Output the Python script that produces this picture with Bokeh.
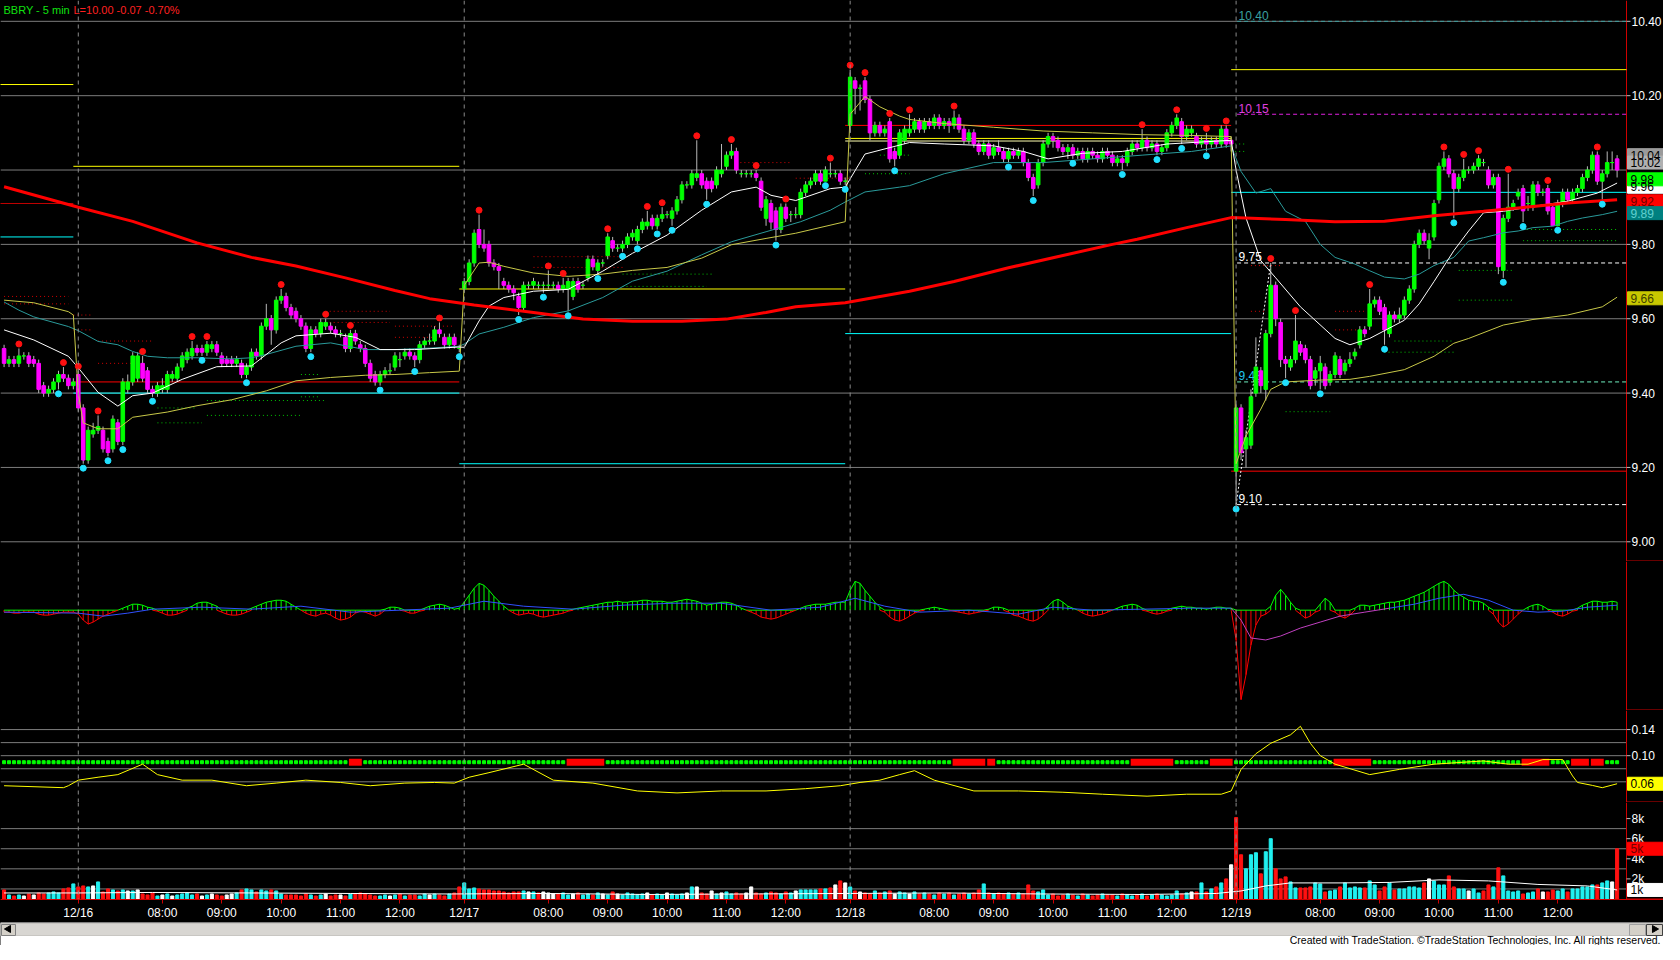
import numpy as np
from bokeh.plotting import figure
from bokeh.models import Range1d, FixedTicker, Span, Label, ColumnDataSource
from bokeh.layouts import column
from bokeh.embed import file_html
from bokeh.resources import INLINE
from bokeh.core.properties import value

# ======================= DATA =======================
symbol = "BBRY - 5 min"
last_quote = "L=10.00 -0.07 -0.70%"
copyright_txt = "Created with TradeStation. \u00a9TradeStation Technologies, Inc. All rights reserved."
pre_day = "12/15"
days = ["12/16", "12/17", "12/18", "12/19"]
pre_bars = 15          # 11:50 .. 13:00 of 12/15
bars_per_day = 78      # 06:35 .. 13:00, 5-minute bars

# prices in cents
open_c = [
    952,948,949,948,950,950,949,948,942,940,941,943,945,944,942,
    945,936,922,929,930,930,927,925,932,927,941,943,944,948,946,
    941,940,941,941,944,944,947,949,950,952,952,951,952,953,950,
    949,949,948,948,945,947,951,950,958,960,957,965,966,963,962,
    960,958,952,957,956,958,958,957,956,955,952,956,953,952,948,
    945,943,945,946,947,949,950,951,950,949,953,954,954,957,955,953,955,952,
    968,970,975,984,980,980,975,974,970,969,968,966,963,969,969,
    969,969,969,969,969,968,968,966,970,969,971,976,973,975,977,
    981,979,979,980,982,981,984,985,987,985,987,988,987,989,992,
    996,996,998,999,997,997,996,999,1001,1004,1005,999,999,999,999,
    997,987,991,989,984,990,988,988,988,994,996,997,999,997,999,999,999,997,
    1012,1024,1022,1024,1019,1010,1012,1010,1013,1005,1004,1008,1010,1011,1013,
    1011,1013,1012,1014,1012,1013,1012,1014,1011,1008,1010,1007,1005,1007,1004,
    1006,1005,1003,1005,1004,1005,1002,998,996,1002,1007,1009,1008,1006,1005,
    1006,1004,1005,1003,1005,1004,1003,1005,1004,1002,1003,1002,1005,1007,1006,
    1008,1006,1007,1005,1006,1010,1012,1013,1009,1010,1009,1007,1008,1007,1008,1007,1011,1008,
    919,936,925,926,940,946,941,956,969,959,949,947,949,953,952,
    949,944,946,947,943,945,949,946,948,950,953,957,958,964,965,
    963,956,961,960,961,965,968,980,983,979,982,992,1001,1003,999,
    995,998,1000,1000,1001,1002,1000,996,998,973,987,990,993,995,991,
    990,996,994,995,990,985,991,994,992,994,995,998,1000,1004,997,999,1002,1003,
]
high_c = [
    953,950,950,952,951,951,950,949,943,942,944,946,947,945,944,
    946,937,931,932,934,931,928,934,933,944,945,951,951,950,947,
    942,943,944,946,946,948,951,952,954,953,953,954,954,954,951,
    950,950,950,949,948,952,952,959,964,961,966,968,967,964,963,
    961,959,958,958,960,960,959,958,957,956,957,957,954,953,949,
    946,946,947,948,951,951,952,952,951,954,955,956,958,959,956,956,956,953,
    971,976,984,988,984,981,976,975,971,970,969,967,970,970,971,
    970,970,973,970,970,971,971,971,971,970,977,977,976,976,983,
    982,980,981,983,984,985,987,989,988,988,990,989,990,993,997,
    997,1000,1008,1000,998,998,1001,1007,1005,1007,1006,1000,1000,1000,1000,
    998,993,992,990,991,991,989,990,995,997,998,1000,1000,1001,1002,1000,1000,998,
    1027,1025,1023,1025,1020,1013,1013,1012,1014,1006,1011,1012,1015,1014,1014,
    1014,1014,1015,1015,1014,1014,1016,1015,1012,1011,1011,1008,1008,1008,1007,
    1008,1006,1006,1006,1006,1006,1003,999,1003,1008,1010,1010,1009,1007,1007,
    1007,1006,1006,1006,1006,1005,1006,1006,1005,1004,1004,1006,1008,1008,1011,
    1009,1008,1008,1007,1011,1013,1015,1014,1012,1012,1010,1009,1010,1009,1009,1012,1012,1009,
    937,937,930,941,955,947,957,975,970,960,950,950,961,954,953,
    950,947,950,948,946,951,950,949,951,952,958,958,968,966,966,
    964,962,962,963,966,969,981,984,984,983,992,1002,1005,1004,1000,
    999,1003,1001,1002,1004,1003,1001,999,999,988,999,992,995,996,993,
    997,997,995,996,991,992,995,995,995,996,999,1001,1005,1005,1000,1005,1005,1004,
]
low_c = [
    947,947,947,947,949,947,947,940,939,939,940,941,943,941,941,
    935,921,921,928,929,924,923,924,926,926,940,942,943,943,940,
    939,939,940,940,943,943,946,948,949,950,950,950,951,950,947,
    947,947,947,944,944,946,949,949,957,953,956,964,962,960,959,
    957,951,951,955,955,957,956,955,955,951,951,953,951,947,943,
    942,942,944,945,946,947,949,949,947,948,952,953,953,955,952,952,952,951,
    967,969,974,979,978,974,973,968,968,967,965,961,962,968,968,
    968,967,968,968,967,967,962,965,967,968,970,973,972,974,976,
    978,978,978,979,981,980,983,984,984,984,986,987,985,988,991,
    995,995,997,995,992,994,995,998,1000,1003,999,998,998,998,997,
    989,985,984,981,983,986,986,987,987,993,995,996,996,997,998,998,996,996,
    1010,1015,1016,1018,1008,1009,1009,1009,1002,1001,1003,1007,1009,1010,1010,
    1010,1011,1011,1011,1011,1010,1011,1010,1007,1007,1006,1004,1004,1003,1003,
    1004,1002,1002,1003,1003,1001,997,993,995,1001,1006,1006,1005,1004,1003,
    1003,1003,1002,1002,1003,1002,1002,1003,1001,1001,1000,1001,1004,1005,1005,
    1005,1005,1004,1004,1005,1009,1011,1007,1008,1009,1006,1006,1005,1006,1006,1006,1006,1005,
    910,922,920,925,939,940,938,955,958,947,944,946,948,950,948,
    941,942,941,941,942,944,944,945,947,949,952,955,957,963,961,
    953,955,959,959,960,964,967,979,980,976,981,991,1000,998,987,
    994,997,999,999,1000,1001,995,995,972,971,986,989,992,986,989,
    989,993,993,988,985,985,990,991,991,993,994,997,999,996,992,998,1000,998,
]
close_c = [
    948,949,948,950,950,948,948,941,940,941,943,945,944,942,943,
    936,922,930,930,931,925,924,933,927,943,943,950,950,944,941,
    940,942,942,945,945,947,950,951,952,951,951,953,953,951,948,
    948,948,949,945,947,951,950,958,960,957,965,966,963,961,960,
    958,952,957,956,959,959,957,956,956,952,956,954,952,948,944,
    943,945,946,946,950,949,951,950,949,953,954,954,957,956,953,955,953,952,
    970,975,983,980,979,975,974,973,969,968,967,963,969,969,970,
    969,969,969,969,968,969,970,970,968,969,976,974,975,975,982,
    979,979,980,982,983,984,986,986,985,987,988,988,989,992,996,
    996,999,999,996,995,995,1000,1000,1004,1005,1000,999,999,999,998,
    990,992,986,984,990,987,988,988,994,996,997,999,997,1000,999,999,997,997,
    1025,1022,1022,1019,1010,1012,1010,1011,1003,1003,1010,1011,1011,1013,1011,
    1013,1012,1014,1012,1013,1012,1014,1011,1008,1010,1007,1005,1007,1004,1006,
    1005,1003,1005,1004,1005,1002,998,995,1002,1007,1009,1008,1006,1005,1006,
    1004,1005,1003,1005,1004,1003,1005,1004,1002,1003,1002,1005,1007,1006,1008,
    1006,1007,1005,1006,1010,1012,1014,1009,1011,1011,1007,1008,1007,1008,1007,1011,1007,1007,
    936,924,928,939,947,942,956,969,960,949,948,949,954,951,949,
    942,946,948,942,945,950,945,948,949,951,957,956,964,965,962,
    957,961,960,961,965,968,980,983,981,981,991,1001,1003,999,995,
    998,1000,1000,1001,1003,1002,996,998,974,987,990,991,994,989,991,
    996,994,994,989,985,991,994,992,994,995,998,1000,1004,997,999,1002,1002,1000,
]
# volume in hundreds of shares
volume_h = [
    9,4,3,4,3,5,4,6,5,6,7,6,10,11,15,
    12,13,12,13,17,7,10,9,8,9,8,8,9,5,4,
    6,3,4,5,3,4,5,6,4,5,3,4,5,4,3,
    4,5,6,9,10,9,7,9,8,9,8,5,4,4,4,
    3,5,4,3,4,5,3,4,4,3,5,5,6,5,4,
    3,3,4,3,4,5,3,4,4,3,5,4,5,4,3,5,6,12,
    16,10,11,10,9,9,8,8,7,6,7,7,8,7,7,
    6,7,6,5,5,6,4,5,6,4,5,4,6,5,4,
    7,5,4,6,5,4,5,6,4,5,4,6,5,4,5,
    6,12,12,6,5,8,5,6,7,5,6,5,6,12,6,
    5,6,7,6,5,7,6,8,9,9,9,9,10,10,11,14,18,16,
    12,8,7,6,5,8,6,7,8,5,7,6,5,7,5,
    6,5,4,6,5,6,4,5,6,5,6,9,15,6,5,
    6,5,6,5,6,5,14,8,7,9,4,5,3,4,5,
    4,3,5,4,3,4,5,4,4,3,5,4,3,4,5,
    3,4,5,4,3,4,8,5,6,7,7,16,7,10,12,16,20,34,
    81,44,30,44,46,25,47,60,30,20,22,17,11,11,11,
    12,16,15,7,8,9,12,16,11,12,11,11,18,14,8,
    12,16,9,10,10,12,12,11,16,20,18,14,14,23,12,
    10,10,8,10,6,8,14,12,31,23,8,7,8,5,6,
    7,10,7,7,9,8,10,7,10,10,12,12,14,14,16,18,17,50,
]
# MACD histogram (panel units)
macd_hist = [
    -2,-2,-3,-3,-2,-2,-2,-4,-5,-5,-4,-3,-2,-2,-2,
    -4,-10,-14,-12,-9,-6,-4,-2,0,2,4,6,6,5,3,
    2,-1,-3,-5,-5,-4,-2,2,4,7,8,8,6,4,-2,
    -4,-5,-5,-4,-2,2,4,6,8,9,10,10,9,6,3,
    0,-3,-5,-6,-4,-3,-5,-8,-10,-9,-7,-3,-1,-2,-4,
    -6,-4,1,3,3,2,-1,-3,-3,-1,2,4,5,6,5,3,1,2,
    8,15,22,27,25,20,14,9,4,0,-3,-5,-4,-3,-4,
    -6,-7,-6,-5,-4,-3,-1,1,2,3,4,5,6,7,8,
    8,9,8,8,9,9,10,10,9,9,9,8,8,9,10,
    11,10,9,7,5,6,7,8,8,7,5,2,0,-2,-4,
    -7,-8,-9,-8,-6,-4,-2,0,2,4,5,6,6,6,7,8,8,8,
    20,29,27,20,14,8,3,-2,-7,-10,-11,-9,-6,-3,-1,
    1,2,3,2,1,0,-1,-2,-3,-4,-3,-2,-1,1,3,
    3,2,-2,-5,-6,-8,-10,-11,-9,-5,4,9,11,8,4,
    2,0,-3,-5,-6,-5,-4,-2,0,2,4,5,6,5,2,
    -1,-3,-4,-3,-1,2,3,4,3,3,2,2,1,2,3,3,2,2,
    -30,-90,-65,-35,-15,-6,-4,4,15,21,15,8,2,-4,-8,
    -6,-2,6,12,8,-2,-6,-8,-5,2,5,5,4,5,6,
    7,8,8,9,10,12,14,16,18,21,24,27,29,26,20,
    16,13,10,9,9,7,3,-4,-12,-17,-14,-9,-4,0,3,
    5,6,4,1,-2,-5,-6,-4,-1,2,5,7,9,9,8,8,9,8,
]
macd_sig_i = [0,15,20,25,30,40,50,60,70,80,90,97,105,115,125,135,145,155,165,172,178,185,195,205,212,220,230,240,248]
macd_sig_v = [-2,-3,-6,-3,1,3,1,4,-2,0,2,9,4,1,5,7,7,0,3,12,4,-2,0,-4,3,0,1,2,2]
macd_sig2_i = [280,285,290,295,300,305,310,315,320,326]
macd_sig2_v = [2,6,12,16,10,0,-2,-1,3,5]
macd_line_i = [248,250,252,255,258,262,266,270,275,280]
macd_line_v = [2,-10,-28,-30,-26,-18,-12,-6,-2,2]

# swing markers (bar index)
swing_high_idx = [3,12,15,19,28,38,41,56,65,70,88,96,110,113,122,130,133,140,147,152,158,167,171,174,179,183,192,230,237,243,247,256,261,276,291,295,298,304,312,322]
swing_low_idx = [11,16,21,24,30,40,49,62,76,83,92,104,109,114,120,125,128,132,135,142,156,166,170,180,203,208,216,226,233,238,243,249,259,266,279,293,303,307,314,323]

# indicator lines (bar index, price)
ma_long_i = [0,15,26,39,50,59,69,79,86,95,107,117,127,137,146,154,160,170,183,192,203,214,224,229,239,248,259,269,279,289,299,309,316,326]
ma_long_v = [9.955,9.90,9.862,9.804,9.765,9.742,9.71,9.676,9.654,9.637,9.617,9.599,9.593,9.593,9.599,9.617,9.632,9.643,9.674,9.70,9.737,9.77,9.80,9.814,9.845,9.872,9.867,9.861,9.862,9.877,9.889,9.902,9.911,9.92]
ma_fast_i = [0,6,13,15,19,23,26,30,36,43,50,56,59,66,71,76,83,92,
             93,96,98,101,107,114,121,127,134,141,147,152,155,160,167,170,174,183,
             190,200,206,211,218,226,235,248,
             249,251,254,257,262,269,272,276,283,286,289,293,296,299,303,309,316,322,326]
ma_fast_v = [9.57,9.543,9.499,9.468,9.402,9.365,9.393,9.40,9.437,9.471,9.473,9.535,9.554,9.561,9.55,9.517,9.517,9.524,
             9.523,9.594,9.634,9.657,9.674,9.679,9.728,9.776,9.825,9.892,9.941,9.954,9.932,9.918,9.95,9.954,10.043,10.074,
             10.07,10.065,10.05,10.03,10.045,10.05,10.07,10.08,
             10.0,9.871,9.756,9.71,9.632,9.547,9.53,9.547,9.596,9.64,9.70,9.783,9.836,9.885,9.889,9.902,9.916,9.938,9.965]
vwap_i = [0,6,13,14,15,16,19,23,26,33,39,46,53,59,66,73,79,86,92,
          93,96,98,101,107,114,121,127,134,141,147,154,160,170,
          171,174,177,181,183,190,200,210,220,230,240,248,
          249,251,254,256,259,266,272,276,283,289,293,296,303,309,316,323,326]
vwap_v = [9.65,9.643,9.619,9.61,9.40,9.32,9.304,9.304,9.335,9.349,9.366,9.382,9.406,9.433,9.442,9.448,9.45,9.455,9.459,
          9.69,9.75,9.752,9.741,9.723,9.714,9.72,9.73,9.738,9.763,9.799,9.816,9.83,9.861,
          10.15,10.198,10.17,10.145,10.136,10.125,10.115,10.105,10.10,10.095,10.093,10.09,
          9.21,9.285,9.357,9.41,9.43,9.435,9.437,9.445,9.463,9.499,9.534,9.547,9.583,9.598,9.61,9.632,9.658]
band_i = [0,3,6,13,15,19,23,26,29,33,39,46,50,53,59,66,73,79,86,92,
          93,96,101,107,114,121,127,134,141,147,154,161,167,170,174,181,183,
          190,200,210,220,230,240,248,
          250,253,256,259,263,266,269,273,276,279,283,286,289,293,296,299,303,306,309,313,316,319,323,326]
band_v = [9.645,9.623,9.605,9.579,9.568,9.539,9.53,9.512,9.499,9.495,9.495,9.492,9.495,9.504,9.526,9.535,9.517,9.517,9.521,9.526,
          9.532,9.559,9.577,9.603,9.621,9.657,9.701,9.728,9.772,9.807,9.834,9.861,9.892,9.914,9.941,9.954,9.958,
          9.99,10.02,10.02,10.03,10.04,10.05,10.065,
          9.996,9.938,9.95,9.889,9.862,9.80,9.765,9.747,9.729,9.712,9.707,9.72,9.743,9.765,9.809,9.818,9.831,9.836,9.845,9.849,9.862,9.871,9.88,9.889]

# horizontal reference levels (price, from bar, to bar)
lvl_price = [10.23, 9.91, 9.82, 10.01, 9.43, 9.40, 9.68, 9.21, 10.12, 10.085, 10.078, 9.56, 10.27, 9.94, 9.19]
lvl_from = [-1, -1, -1, 14, 14, 14, 92, 92, 170, 170, 170, 170, 248, 248, 248]
lvl_to = [14, 14, 14, 92, 92, 92, 170, 170, 248, 248, 248, 248, 330, 330, 330]
# 12/19 projected levels
proj_price = [10.40, 10.15, 9.75, 9.43, 9.10]
proj_text = ["10.40", "10.15", "9.75", "9.43", "9.10"]
proj_from = 249.2
zig_idx = [249, 256]
# dotted pivot marks
rdot_p = [9.66, 9.64, 9.61, 9.57, 9.54, 9.48, 9.62, 9.59, 9.58, 9.55, 9.767, 9.738, 10.02, 9.978, 9.743, 9.62, 9.62, 9.57]
rdot_a = [0, 0, 14, 14, 19, 19, 65, 65, 79, 79, 107, 107, 148, 160, 252, 252, 269, 269]
rdot_b = [13, 13, 18, 18, 30, 27, 78, 78, 91, 91, 125, 125, 159, 171, 258, 255, 275, 275]
gdot_p = [9.45, 9.39, 9.38, 9.36, 9.34, 9.32, 9.72, 9.687, 9.99, 10.04, 10.07, 10.05, 9.35, 9.54, 9.51, 9.73, 9.65, 9.84, 9.81]
gdot_a = [60, 60, 41, 31, 41, 31, 125, 125, 174, 177, 248, 248, 259, 281, 279, 294, 294, 307, 307]
gdot_b = [64, 64, 65, 39, 60, 40, 143, 142, 183, 183, 251, 251, 268, 293, 293, 305, 305, 326, 326]

# volatility panel
vola_i = [0,12,13,15,19,23,28,31,36,42,49,55,61,68,74,81,87,91,94,98,105,111,119,128,136,145,154,162,169,173,
          177,181,184,188,196,205,214,222,231,239,246,248,250,253,256,260,262,264,266,269,276,282,289,295,299,304,308,311,315,317,
          318,321,323,326]
vola_v = [0.054,0.051,0.054,0.0625,0.067,0.071,0.087,0.071,0.0625,0.0625,0.054,0.058,0.0625,0.059,0.054,0.058,0.059,0.058,0.067,0.074,
          0.087,0.0625,0.058,0.046,0.043,0.046,0.046,0.0495,0.054,0.059,0.0625,0.071,0.077,0.0625,0.046,0.046,0.044,0.041,0.038,0.041,
          0.041,0.046,0.079,0.103,0.119,0.132,0.145,0.119,0.10,0.087,0.071,0.079,0.087,0.09,0.092,0.087,0.087,0.094,0.094,0.069,
          0.059,0.0545,0.051,0.057]
squeeze_level = 0.09
sq_start = [70, 114, 192, 199, 228, 244, 269, 307, 317, 321]
sq_end = [72, 121, 198, 200, 236, 248, 276, 312, 320, 323]

# volume average line (shares)
vavg_i = [0,15,30,50,70,90,110,130,150,170,190,210,230,245,250,255,260,270,280,290,300,310,320,326]
vavg_v = [600,600,650,600,550,500,550,450,500,550,600,500,450,550,800,1300,1600,1600,1650,1900,1800,1450,1300,900]

# axis ticks
price_ticks = [9.0, 9.2, 9.4, 9.6, 9.8, 10.2, 10.4]
price_grid = [9.0, 9.2, 9.4, 9.6, 9.8, 10.0, 10.2, 10.4]
vola_ticks = [0.10, 0.14]
vola_grid = [0.06, 0.08, 0.10, 0.12, 0.14]
vol_ticks = [2, 4, 6, 8]            # thousands
vol_grid = [1, 3, 5, 7]
# right-hand value tags
price_tag_v = [10.04, 10.02, 9.955, 9.975, 9.916, 9.884, 9.655]
price_tag_t = ["10.04", "10.02", "9.96", "9.98", "9.92", "9.89", "9.66"]
vola_tag_v, vola_tag_t = [0.057], ["0.06"]
vol_tag_v, vol_tag_t = [5.0, 0.9], ["5k", "1k"]

# ======================= STYLE / LAYOUT =======================
FONT = "Liberation Sans"
AX_FS = "12px"
FW = 1626            # chart area width
RB = 37              # price-scale column width
TW = FW + RB
H_PRICE, H_MACD, H_VOLA, H_VOL, H_AXIS, H_FOOT = 561, 149, 92, 97, 21, 23
GRID = "#7c7c7c"
AXRED = "#d00000"
UP, DN = "#00ff00", "#ff00ff"

X0, X1 = -0.72, 327.9
PX = (X1 - X0) / FW           # data units per pixel
xr = Range1d(X0, X0 + PX * TW)

o = np.array(open_c) / 100.0
c = np.array(close_c) / 100.0
h = np.maximum(np.array(high_c) / 100.0, np.maximum(o, c))
l = np.minimum(np.array(low_c) / 100.0, np.minimum(o, c))
n = len(c)
x = np.arange(n)

times = [(pre_day, 11 * 60 + 50 + 5 * k) for k in range(pre_bars)]
for d in days:
    times += [(d, 6 * 60 + 35 + 5 * k) for k in range(bars_per_day)]
day_start = [i for i, (d, m) in enumerate(times) if d != pre_day and m == 6 * 60 + 35]
tick_pos, tick_txt = [], []
for i, (d, m) in enumerate(times[:n]):
    if d == pre_day:
        continue
    if m == 6 * 60 + 35:
        tick_pos.append(i); tick_txt.append(d)
    elif m % 60 == 0 and 8 * 60 <= m <= 12 * 60:
        tick_pos.append(i); tick_txt.append("%02d:00" % (m // 60))


def make_panel(hgt, y0, y1, ticks, labels, grid, bottom=0, xaxis=False):
    p = figure(frame_width=TW, frame_height=hgt, x_range=xr, y_range=Range1d(y0, y1),
               output_backend="svg", toolbar_location=None,
               y_axis_location=None, x_axis_location="below" if xaxis else None,
               min_border_left=0, min_border_top=0, min_border_bottom=bottom, min_border_right=0,
               background_fill_color="black", border_fill_color="black", outline_line_color=None)
    p.xgrid.visible = False
    p.ygrid.visible = False
    if grid:
        p.segment(x0=[X0] * len(grid), y0=grid, x1=[X1] * len(grid), y1=grid, line_color=GRID, line_width=1)
    for d in day_start:
        p.add_layout(Span(location=d, dimension="height", line_color="#8a8a8a", line_dash="4 4", line_width=1))
    # price-scale column
    p.segment(x0=[X1], y0=[y0], x1=[X1], y1=[y1], line_color=AXRED, line_width=1)
    eps = (y1 - y0) / hgt * 0.5
    p.segment(x0=[X1], y0=[y0 + eps], x1=[xr.end], y1=[y0 + eps], line_color=AXRED, line_width=1)
    if ticks:
        p.segment(x0=[X1] * len(ticks), y0=ticks, x1=[X1 + 4 * PX] * len(ticks), y1=ticks,
                  line_color="#c0c0c0", line_width=1)
        p.text(x=[X1 + 5 * PX] * len(ticks), y=ticks, text=labels, text_color="white",
               text_font=value(FONT), text_font_size=AX_FS, text_baseline="middle", text_align="left")
    return p


def tags(p, ys, txts, bgs, fgs):
    p.rect(x=[X1 + (RB / 2 + 0.5) * PX] * len(ys), y=ys, width=RB - 1, height=13,
           width_units="screen", height_units="screen", fill_color=bgs, line_color=bgs)
    p.text(x=[X1 + 4 * PX] * len(ys), y=ys, text=txts, text_color=fgs, text_font=value(FONT),
           text_font_size=AX_FS, text_baseline="middle", text_align="left")


# ---------------- price panel ----------------
p1 = make_panel(H_PRICE, 8.947, 10.456, price_ticks, ["%.2f" % t for t in price_ticks], price_grid)

lvl_colors = ["#ffff00", "#c00000", "#00ffff", "#ffff00", "#ff0000", "#00ffff", "#ffff00", "#00ffff",
              "#ff0000", "#ffff00", "#ffffb0", "#00ffff", "#ffff00", "#00ffff", "#ff0000"]
p1.segment(x0=lvl_from, y0=lvl_price, x1=[min(t, X1) for t in lvl_to], y1=lvl_price,
           line_color=lvl_colors, line_width=1)
proj_line_colors = ["#3aa0a0", "#e020e0", "#ffffff", "#70f0c0", "#ffffff"]
proj_text_colors = ["#3aa0a0", "#e040e0", "#ffffff", "#20c8f0", "#ffffff"]
p1.segment(x0=[proj_from] * len(proj_price), y0=proj_price, x1=[X1] * len(proj_price), y1=proj_price,
           line_color=proj_line_colors, line_width=1, line_dash="4 3")
p1.segment(x0=rdot_a, y0=rdot_p, x1=rdot_b, y1=rdot_p, line_color="#d00000", line_width=1, line_dash="1 3")
p1.segment(x0=gdot_a, y0=gdot_p, x1=gdot_b, y1=gdot_p, line_color="#00c000", line_width=1, line_dash="1 3")
p1.text(x=[proj_from + 0.3] * len(proj_price), y=[v + 0.004 for v in proj_price], text=proj_text,
        text_color=proj_text_colors, text_font=value(FONT), text_font_size=AX_FS, text_baseline="bottom")
p1.line(x=zig_idx, y=[l[zig_idx[0]], h[zig_idx[1]]], line_color="white", line_width=1, line_dash="2 2")

cols = [UP if cc >= oo else DN for oo, cc in zip(o, c)]
src = ColumnDataSource(dict(x=x, h=h, l=l, top=np.maximum(o, c), bot=np.minimum(o, c), col=cols))
p1.segment(x0="x", y0="l", x1="x", y1="h", source=src, line_color="#b8b8b8", line_width=1)
p1.vbar(x="x", width=0.72, top="top", bottom="bot", fill_color="col", line_color="col", source=src)

p1.line(band_i, band_v, line_color="#2a9a9a", line_width=1)
p1.line(vwap_i, vwap_v, line_color="#c8c848", line_width=1)
p1.line(ma_fast_i, ma_fast_v, line_color="#ffffff", line_width=1)
p1.line(ma_long_i, ma_long_v, line_color="#ff0000", line_width=3)

p1.scatter(x=swing_high_idx, y=h[swing_high_idx] + 0.012, size=6, fill_color="#ff1010", line_color="#ff1010")
p1.scatter(x=swing_low_idx, y=l[swing_low_idx] - 0.012, size=6, fill_color="#20e0ff", line_color="#20e0ff")

p1.add_layout(Label(x=3, y=H_PRICE - 3, x_units="screen", y_units="screen", text=symbol,
                    text_color="#10e010", text_font=FONT, text_font_size="11px", text_baseline="top"))
p1.add_layout(Label(x=73, y=H_PRICE - 3, x_units="screen", y_units="screen", text=last_quote,
                    text_color="#ff2020", text_font=FONT, text_font_size="11px", text_baseline="top"))
tags(p1, price_tag_v, price_tag_t,
     ["#9a9a9a", "#b0b0b0", "#ffffff", "#00ff00", "#ff0000", "#008080", "#c8c800"],
     ["black", "black", "black", "black", "#700000", "#60d0d0", "#404000"])

# ---------------- MACD panel ----------------
p2 = make_panel(H_MACD, -101, 49, [], [], [])
hist = np.array(macd_hist, dtype=float)
p2.segment(x0=x, y0=np.zeros(n), x1=x, y1=hist,
           line_color=["#00ff00" if v >= 0 else "#ff0000" for v in hist], line_width=1)
pos = np.maximum(hist, 0)
neg = np.minimum(hist, 0)
mask = (hist >= 0) & (np.roll(hist, 1) >= 0) & (np.roll(hist, -1) >= 0)
neg[mask] = np.nan
p2.line(x, pos, line_color="#00ff00", line_width=1)
p2.line(x, neg, line_color="#ff0000", line_width=1)
p2.line(macd_sig_i, macd_sig_v, line_color="#3050ff", line_width=1)
p2.line(macd_sig2_i, macd_sig2_v, line_color="#3050ff", line_width=1)
p2.line(macd_line_i, macd_line_v, line_color="#c040c0", line_width=1)

# ---------------- volatility panel ----------------
p3 = make_panel(H_VOLA, 0.0283, 0.1692, vola_ticks, ["%.2f" % t for t in vola_ticks], vola_grid)
in_sq = np.zeros(n, dtype=bool)
for a, b in zip(sq_start, sq_end):
    in_sq[a:b + 1] = True
p3.scatter(x=x[~in_sq], y=np.full((~in_sq).sum(), squeeze_level), marker="square", size=3,
           fill_color="#00ff00", line_color="#00ff00")
p3.segment(x0=[a - 0.3 for a in sq_start], y0=[squeeze_level] * len(sq_start),
           x1=[b + 0.3 for b in sq_end], y1=[squeeze_level] * len(sq_end),
           line_color="#ff0000", line_width=7)
p3.line(vola_i, vola_v, line_color="#ffff00", line_width=1)
tags(p3, vola_tag_v, vola_tag_t, ["#ffff00"], ["black"])

# ---------------- volume panel ----------------
p4 = make_panel(H_VOL, -0.05, 9.6, vol_ticks, ["%dk" % t for t in vol_ticks], vol_grid,
                bottom=H_AXIS, xaxis=True)
prev = np.concatenate([[o[0]], c[:-1]])
vcol = ["#20f0f0" if cc > pp else ("#ff1010" if cc < pp else "#ffffff") for cc, pp in zip(c, prev)]
vol_k = np.array(volume_h) * 100 / 1000.0
p4.vbar(x=x, width=0.62, top=vol_k, bottom=0, fill_color=vcol, line_color=vcol)
p4.line(vavg_i, [v / 1000.0 for v in vavg_v], line_color="white", line_width=1)
tags(p4, vol_tag_v, vol_tag_t, ["#ff0000", "#ffffff"], ["#700000", "black"])
p4.xaxis.ticker = FixedTicker(ticks=tick_pos)
p4.xaxis.major_label_overrides = {int(k): t for k, t in zip(tick_pos, tick_txt)}
p4.xaxis.axis_line_color = AXRED
p4.xaxis.major_tick_line_color = AXRED
p4.xaxis.minor_tick_line_color = None
p4.xaxis.major_tick_in = 0
p4.xaxis.major_tick_out = 4
p4.xaxis.major_label_standoff = 2
p4.xaxis.major_label_text_color = "white"
p4.xaxis.major_label_text_font = FONT
p4.xaxis.major_label_text_font_size = AX_FS

# ---------------- footer (scroll bar + copyright) ----------------
p5 = figure(frame_width=TW, frame_height=H_FOOT, x_range=Range1d(0, TW), y_range=Range1d(0, H_FOOT),
            output_backend="svg", toolbar_location=None, x_axis_location=None, y_axis_location=None,
            min_border_left=0, min_border_right=0, min_border_top=0, min_border_bottom=0,
            background_fill_color="white", border_fill_color="white", outline_line_color=None)
p5.xgrid.visible = False
p5.ygrid.visible = False
p5.quad(left=[0], right=[TW], bottom=[10], top=[H_FOOT - 1], fill_color="#d8d6d2", line_color="#c8c6c2")
p5.quad(left=[1, TW - 34, TW - 17], right=[15, TW - 18, TW - 1], bottom=[10, 10, 10], top=[H_FOOT - 2] * 3,
        fill_color=["#d4d0c8", "#d4d0c8", "#d4d0c8"], line_color=["#808080", "#a0a0a0", "#404040"])
p5.scatter(x=[8, TW - 9], y=[16.5, 16.5], marker="triangle", size=7, angle=[np.pi / 2, -np.pi / 2],
           fill_color="black", line_color="black")
p5.text(x=[TW - 2], y=[0], text=[copyright_txt], text_align="right", text_baseline="bottom",
        text_font=value(FONT), text_font_size="10.5px", text_color="black")

layout = column(p1, p2, p3, p4, p5, spacing=0)
layout.styles = {"background-color": "black"}
open("out.html", "w").write(file_html(layout, INLINE, title="BBRY - 5 min"))
